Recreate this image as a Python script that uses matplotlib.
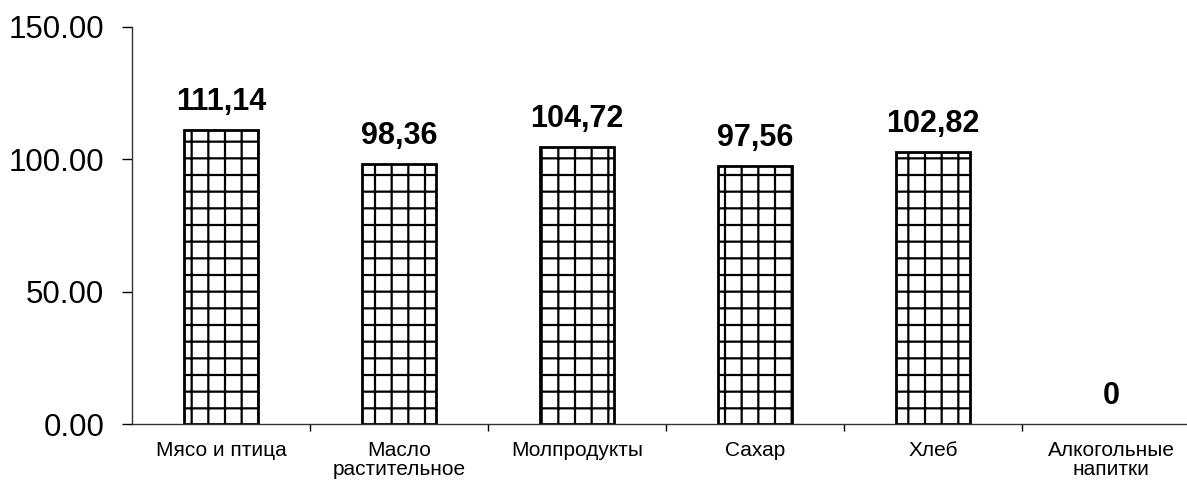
import numpy as np
import matplotlib.pyplot as plt
from matplotlib.ticker import FixedLocator, FormatStrFormatter

plt.rcParams['font.family'] = ['Liberation Sans', 'DejaVu Sans']
plt.rcParams['hatch.linewidth'] = 1.6

# Data
categories = ['Мясо и птица', 'Масло\nрастительное', 'Молпродукты',
              'Сахар', 'Хлеб', 'Алкогольные\nнапитки']
values = [111.14, 98.36, 104.72, 97.56, 102.82, 0]
value_labels = ['111,14', '98,36', '104,72', '97,56', '102,82', '0']

fig = plt.figure(figsize=(11.87, 4.84), dpi=100)
ax = fig.add_axes([132 / 1187, 60 / 484, 1055 / 1187, 397 / 484])

x = np.arange(len(categories))
bars = ax.bar(x, values, width=0.42, color='white', edgecolor='black',
              linewidth=2.0, hatch='+')
for b, v in zip(bars, values):
    if v == 0:
        b.set_visible(False)  # zero bar shows nothing in the original

for xi, v, lab in zip(x, values, value_labels):
    ax.annotate(lab, (xi, v), textcoords='offset points', xytext=(0, 9),
                ha='center', va='bottom', fontsize=22, fontweight='bold')

ax.set_xlim(-0.5, 5.5 - 13 / 178)
ax.set_ylim(0, 150)

ax.set_yticks([0, 50, 100, 150])
ax.yaxis.set_major_formatter(FormatStrFormatter('%.2f'))
ax.tick_params(axis='y', labelsize=22.5, direction='out', length=7, width=1,
               pad=13)

ax.set_xticks(x)
ax.set_xticklabels(categories, fontsize=15, linespacing=1.05)
ax.tick_params(axis='x', which='major', length=0, pad=12)
ax.xaxis.set_minor_locator(FixedLocator(np.arange(0.5, 5, 1)))
ax.tick_params(axis='x', which='minor', length=5, direction='out', width=1)

ax.spines['top'].set_visible(False)
ax.spines['right'].set_visible(False)
for side in ['left', 'bottom']:
    ax.spines[side].set_linewidth(1)
    ax.spines[side].set_color('#333333')

fig.savefig('out.png', dpi=100)
